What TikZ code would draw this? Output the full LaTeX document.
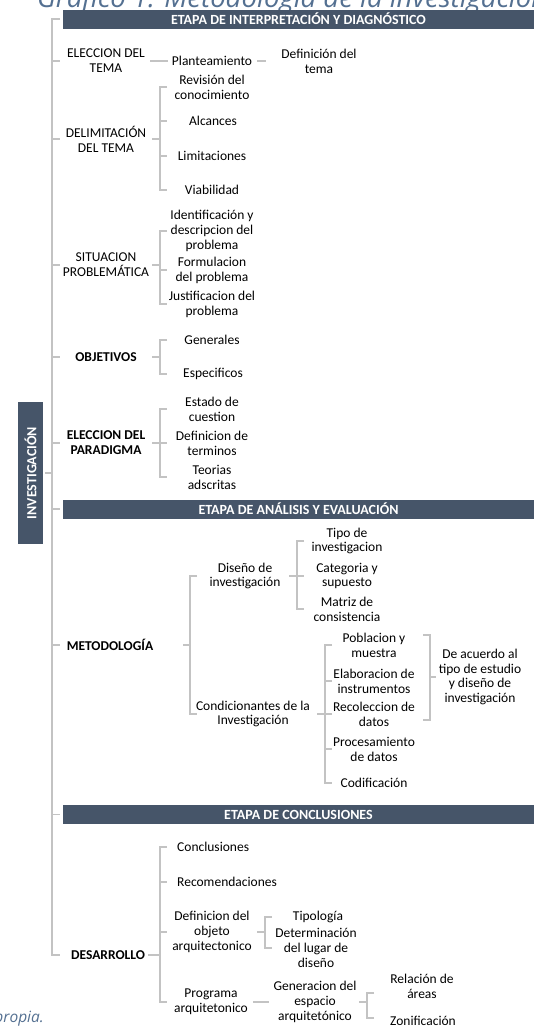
\documentclass[tikz,border=0pt]{standalone}
\usepackage{fontspec}
\setmainfont{Carlito}
\newfontfamily\titlefont{Open Sans}
\definecolor{band}{RGB}{70,85,105}
\definecolor{brgray}{RGB}{195,195,195}
\definecolor{ttl}{RGB}{84,112,145}
\begin{document}
\begin{tikzpicture}[x=1pt,y=-1pt,
  txt/.style={font=\fontsize{13.5}{14.8}\selectfont, align=center, inner sep=3pt},
  bt/.style={txt, font=\fontsize{13.5}{14.8}\selectfont\bfseries},
  bandbox/.style={fill=band, text=white, font=\fontsize{14}{15}\selectfont\bfseries, minimum width=471pt, minimum height=19pt, inner sep=0pt},
  br/.style={draw=brgray, line width=1.8pt}]
\useasboundingbox (0,0) rectangle (534,1026);
\clip (0,0) rectangle (534,1026);

% title and source (cut by the frame)
\node[anchor=base west, inner sep=0pt, text=ttl, font=\titlefont\itshape\fontsize{27.5}{30}\selectfont] (title) at (37,7) {Gráfico 1: Metodología de la investigación};
\node[anchor=base east, inner sep=0pt, text=ttl, font=\titlefont\itshape\fontsize{15.5}{17}\selectfont] (src) at (44,1022) {Fuente: Elaboración propia.};

% bands
\node[bandbox] (b1) at (298.5,19) {ETAPA DE INTERPRETACIÓN Y DIAGNÓSTICO};
\node[bandbox] (b2) at (298.5,509) {ETAPA DE ANÁLISIS Y EVALUACIÓN};
\node[bandbox] (b3) at (298.5,814.5) {ETAPA DE CONCLUSIONES};
\node[fill=band, text=white, rotate=90, minimum width=142pt, minimum height=25pt, inner sep=0pt, font=\fontsize{14}{15}\selectfont\bfseries] (inv) at (30.5,473) {INVESTIGACIÓN};

% nodes
\node[txt] (el1) at (106,61) {ELECCION DEL\\TEMA};
\node[txt] (plan) at (212,61) {Planteamiento};
\node[txt] (deft) at (319,61) {Definición del\\tema};
\node[txt] (del) at (106,139) {DELIMITACIÓN\\DEL TEMA};
\node[txt] (rev) at (212,87) {Revisión del\\conocimiento};
\node[txt] (alc) at (213,121) {Alcances};
\node[txt] (lim) at (212,156) {Limitaciones};
\node[txt] (via) at (212,190) {Viabilidad};
\node[txt] (sit) at (106,265) {SITUACION\\PROBLEMÁTICA};
\node[txt] (idp) at (212,231) {Identificación y\\descripcion del\\problema};
\node[txt] (form) at (212,270) {Formulacion\\del problema};
\node[txt] (jus) at (212,304) {Justificacion del\\problema};
\node[bt] (obj) at (106,357) {OBJETIVOS};
\node[txt] (gnr) at (212,340) {Generales};
\node[txt] (esp) at (213,374) {Especificos};
\node[bt] (par) at (106,443) {ELECCION DEL\\PARADIGMA};
\node[txt] (est) at (212,409) {Estado de\\cuestion};
\node[txt] (dft) at (212,443) {Definicion de\\terminos};
\node[txt] (teo) at (212,477) {Teorias\\adscritas};
\node[bt] (met) at (110,645) {METODOLOGÍA};
\node[txt] (dis) at (245,576) {Diseño de\\investigación};
\node[txt] (tip) at (347,541) {Tipo de\\investigacion};
\node[txt] (cat) at (347,576) {Categoria y\\supuesto};
\node[txt] (mat) at (347,609) {Matriz de\\consistencia};
\node[txt] (con) at (253,714) {Condicionantes de la\\Investigación};
\node[txt] (pob) at (374,645) {Poblacion y\\muestra};
\node[txt] (ela) at (374,681) {Elaboracion de\\instrumentos};
\node[txt] (rec) at (374,714) {Recoleccion de\\datos};
\node[txt] (pro) at (374,749) {Procesamiento\\de datos};
\node[txt] (cod) at (374,783) {Codificación};
\node[txt] (acu) at (480,677) {De acuerdo al\\tipo de estudio\\y diseño de\\investigación};
\node[bt] (des) at (108,955) {DESARROLLO};
\node[txt, anchor=west] (conc) at (174,847) {Conclusiones};
\node[txt, anchor=west] (reco) at (174,882) {Recomendaciones};
\node[txt] (defo) at (212,932) {Definicion del\\objeto\\arquitectonico};
\node[txt] (prog) at (211,1002) {Programa\\arquitetonico};
\node[txt] (tipo) at (318,917) {Tipología};
\node[txt] (detl) at (316,948) {Determinación\\del lugar de\\diseño};
\node[txt] (gen) at (315,1002) {Generacion del\\espacio\\arquitetónico};
\node[txt] (rel) at (422,986) {Relación de\\áreas};
\node[txt] (zon) at (423,1021) {Zonificación};

% spine x positions
\coordinate (iT) at (45,0);
\coordinate (mS) at (52,0);  \coordinate (mT) at (60,0);
\coordinate (aP) at (152,0); \coordinate (gP) at (148,0);
\coordinate (aS) at (160,0); \coordinate (aT) at (167,0);
\coordinate (bP) at (183,0); \coordinate (bS) at (190,0); \coordinate (bT) at (197,0);
\coordinate (cP) at (289,0); \coordinate (cS) at (297,0); \coordinate (cT) at (304,0);
\coordinate (dP) at (317,0); \coordinate (dS) at (325,0); \coordinate (dT) at (332,0);
\coordinate (eT) at (423,0); \coordinate (eS) at (430,0); \coordinate (eO) at (436,0);
\coordinate (fP) at (257,0); \coordinate (fS) at (265,0); \coordinate (fT) at (272,0);
\coordinate (hP) at (359,0); \coordinate (hS) at (367,0); \coordinate (hT) at (374,0);
\coordinate (pobR) at ([yshift=10pt]pob.center);
\coordinate (recR) at ([yshift=-6pt]rec.center);
\coordinate (relR) at ([yshift=-7pt]rel.center);
\coordinate (zonR) at ([yshift=3pt]zon.center);

% main spine
\draw[br] (b1 -| mT) -- (b1 -| mS) -- (des -| mS) -- (des -| mT);
\foreach \n in {el1,del,sit,obj,par,b2,met,b3} \draw[br] (\n -| mS) -- (\n -| mT);
\draw[br] (inv -| iT) -- (inv -| mS);

% eleccion del tema chain
\draw[br, shorten <=2pt, shorten >=1pt] (el1.east) -- (plan.west);
\draw[br, shorten <=2pt, shorten >=12pt] (plan.east) -- (deft.west);

% delimitacion
\draw[br] (del -| aP) -- (del -| aS);
\draw[br] (rev -| aT) -- (rev -| aS) -- (via -| aS) -- (via -| aT);
\foreach \n in {alc,lim} \draw[br] (\n -| aS) -- (\n -| aT);

% situacion
\draw[br] (sit -| aP) -- (sit -| aS);
\draw[br] (idp -| aT) -- (idp -| aS) -- (jus -| aS) -- (jus -| aT);
\draw[br] (form -| aS) -- (form -| aT);

% objetivos
\draw[br] (obj -| aP) -- (obj -| aS);
\draw[br] (gnr -| aT) -- (gnr -| aS) -- (esp -| aS) -- (esp -| aT);

% paradigma
\draw[br] (par -| aP) -- (par -| aS);
\draw[br] (est -| aT) -- (est -| aS) -- (teo -| aS) -- (teo -| aT);
\draw[br] (dft -| aS) -- (dft -| aT);

% metodologia
\draw[br] (met -| bP) -- (met -| bS);
\draw[br] (dis -| bT) -- (dis -| bS) -- (con -| bS) -- (con -| bT);

% diseno
\draw[br] (dis -| cP) -- (dis -| cS);
\draw[br] (tip -| cT) -- (tip -| cS) -- (mat -| cS) -- (mat -| cT);
\draw[br] (cat -| cS) -- (cat -| cT);

% condicionantes
\draw[br] (con -| dP) -- (con -| dS);
\draw[br] (pob -| dT) -- (pob -| dS) -- (cod -| dS) -- (cod -| dT);
\foreach \n in {ela,rec,pro} \draw[br] (\n -| dS) -- (\n -| dT);

% right bracket
\draw[br] (pobR -| eT) -- (pobR -| eS) -- (recR -| eS) -- (recR -| eT);
\draw[br] (acu -| eS) -- (acu -| eO);

% desarrollo
\draw[br] (des -| gP) -- (des -| aS);
\draw[br] (conc -| aT) -- (conc -| aS) -- (prog -| aS) -- (prog -| aT);
\foreach \n in {reco,defo} \draw[br] (\n -| aS) -- (\n -| aT);

% definicion del objeto
\draw[br] (defo -| fP) -- (defo -| fS);
\draw[br] (tipo -| fT) -- (tipo -| fS) -- (detl -| fS) -- (detl -| fT);

% programa
\draw[br, shorten <=2pt, shorten >=1pt] (prog.east) -- (gen.west);
\draw[br] (gen -| hP) -- (gen -| hS);
\draw[br] (relR -| hT) -- (relR -| hS) -- (zonR -| hS) -- (zonR -| hT);
\end{tikzpicture}
\end{document}
